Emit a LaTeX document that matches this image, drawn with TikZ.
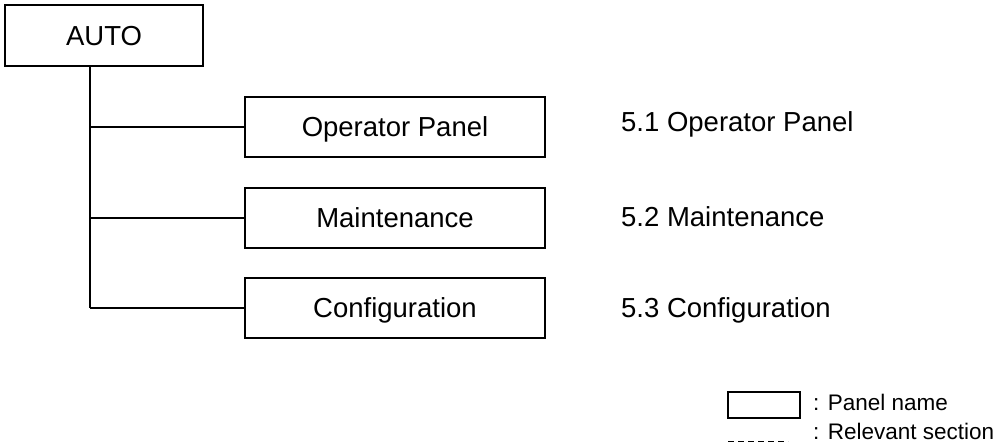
\documentclass[tikz,border=0pt]{standalone}
\usepackage{fontspec}
\setmainfont{Liberation Sans}
\begin{document}
\begin{tikzpicture}[x=1pt,y=-1pt,
  panel/.style={draw,line width=2pt,minimum width=300pt,minimum height=60pt,inner sep=0pt,
    font=\fontsize{27.5}{30}\selectfont,text height=19.7pt,text depth=0pt},
  conn/.style={line width=2pt},
  sect/.style={anchor=base west,inner sep=0pt,font=\fontsize{27.5}{30}\selectfont},
  legtext/.style={anchor=base west,inner sep=0pt,font=\fontsize{22.5}{26}\selectfont}]
\useasboundingbox (0,0) rectangle (1003,443);
\node[panel,minimum width=198pt,minimum height=61pt] (auto) at (104,35.5) {AUTO};
\node[panel] (op) at (395,127) {Operator Panel};
\node[panel] (mt) at (395,218) {Maintenance};
\node[panel] (cf) at (395,308) {Configuration};
\coordinate (j1) at (90,127);
\coordinate (j2) at (90,218);
\coordinate (j3) at (90,308);
\draw[conn] (auto.south -| j3) -- (j3);
\draw[conn] (j1) -- (op.west);
\draw[conn] (j2) -- (mt.west);
\draw[conn] (j3) -- (cf.west);
\node[sect] (s1) at (621,132) {5.1 Operator Panel};
\node[sect] (s2) at (621,227) {5.2 Maintenance};
\node[sect] (s3) at (621,317) {5.3 Configuration};
\node[draw,line width=1.1pt,minimum width=72pt,minimum height=26pt,inner sep=0pt] (lbox) at (764,405) {};
\node[legtext] (l1) at (813,410) {: Panel name};
\coordinate (d1) at (728,441);
\coordinate (d2) at (788,441);
\draw[line width=1pt,dash pattern=on 6pt off 4pt] (d1) -- (d2);
\node[legtext] (l2) at (813,439) {: Relevant section};
\end{tikzpicture}
\end{document}
